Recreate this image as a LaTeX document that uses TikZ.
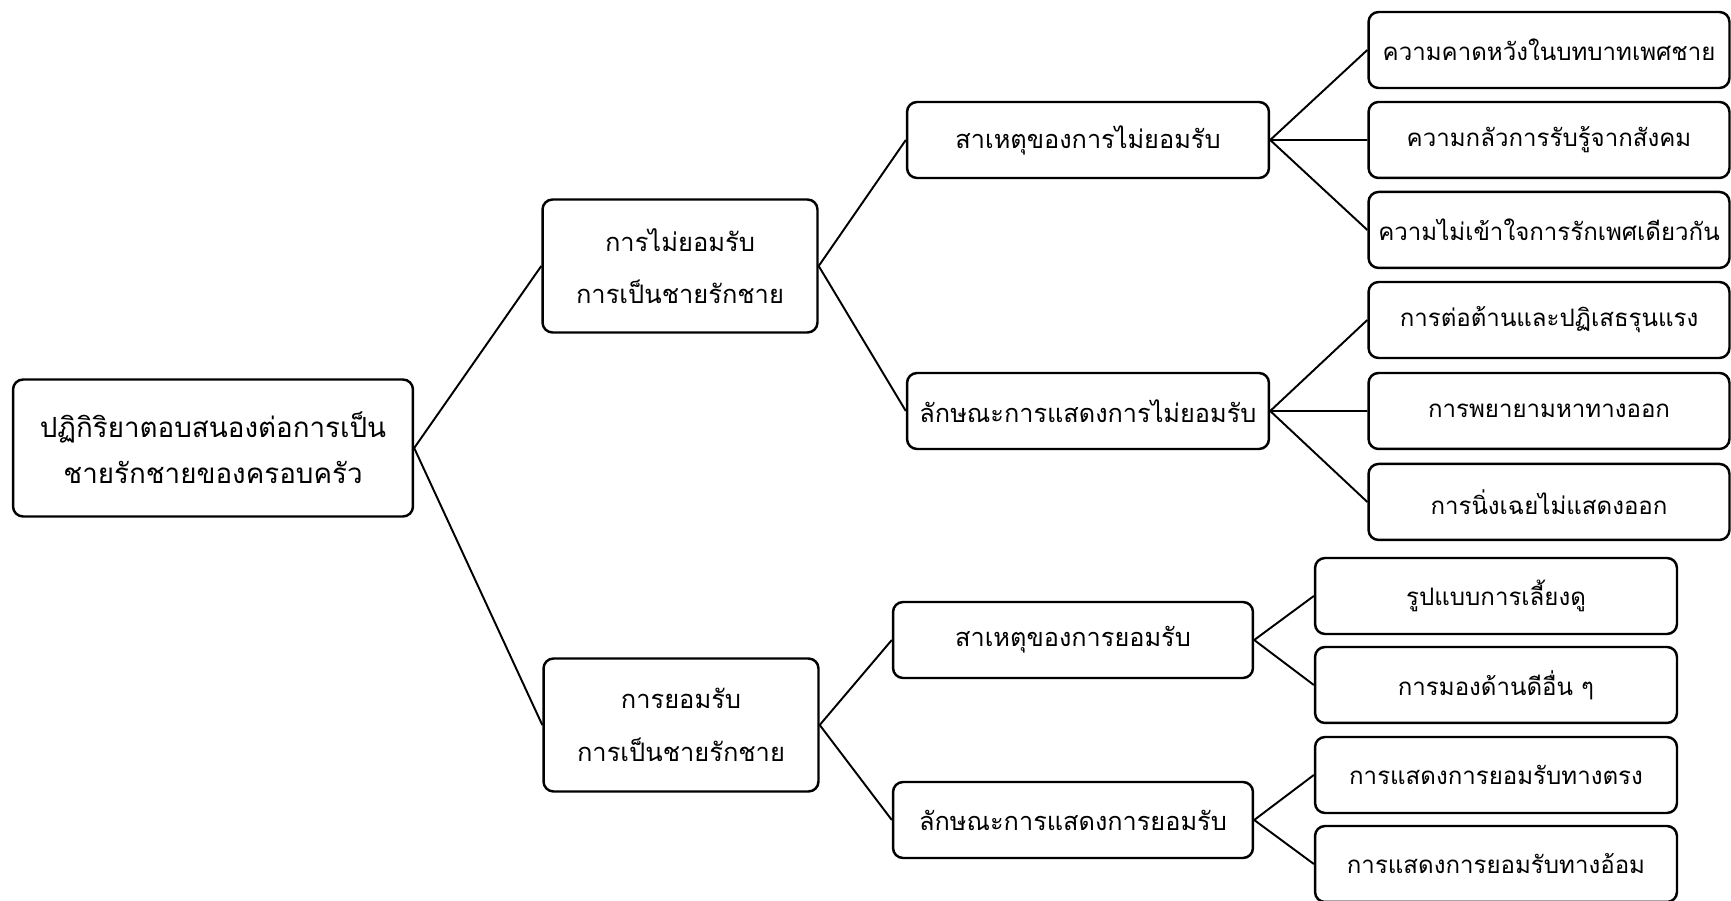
\documentclass[tikz,border=0pt]{standalone}
\usepackage{fontspec}
\newfontfamily\thaifont[Script=Thai]{Loma}
\usetikzlibrary{positioning}
\tikzstyle{block} = [rectangle, draw, line width=1.4pt, rounded corners=0.2cm,
    align=center, inner sep=0pt, font=\thaifont\fontsize{13.7}{20}\selectfont]
\tikzstyle{rootblock} = [block, minimum width=8cm, minimum height=2.74cm,
    font=\thaifont\fontsize{15.8}{26}\selectfont]
\tikzstyle{midblock} = [block, minimum width=5.5cm, minimum height=2.66cm,
    font=\thaifont\fontsize{14.5}{30}\selectfont]
\tikzstyle{subblock} = [block, minimum width=7.24cm, minimum height=1.52cm,
    font=\thaifont\fontsize{14.4}{20}\selectfont]
\tikzstyle{leaf} = [block, minimum width=7.22cm, minimum height=1.52cm]
\tikzstyle{line} = [draw, line width=1.1pt]

\begin{document}
\begin{tikzpicture}[x=0.02cm, y=-0.02cm]
    \useasboundingbox (0,0) rectangle (1731,901);
    % Place nodes
    \node [rootblock] (root) at (213,448) {ปฏิกิริยาตอบสนองต่อการเป็น\\ชายรักชายของครอบครัว};
    \node [midblock] (reject) at (680,266) {การไม่ยอมรับ\\การเป็นชายรักชาย};
    \node [midblock] (accept) at (681,725) {การยอมรับ\\การเป็นชายรักชาย};
    \node [subblock] (rejcause) at (1088,140) {สาเหตุของการไม่ยอมรับ};
    \node [subblock] (rejshow) at (1088,411) {ลักษณะการแสดงการไม่ยอมรับ};
    \node [subblock, minimum width=7.2cm] (acccause) at (1073,640) {สาเหตุของการยอมรับ};
    \node [subblock, minimum width=7.2cm] (accshow) at (1073,820) {ลักษณะการแสดงการยอมรับ};
    % the leaves on the right
    \node [leaf] (expect) at (1549,50) {ความคาดหวังในบทบาทเพศชาย};
    \node [leaf, below of=expect, node distance=1.8cm] (fear) {ความกลัวการรับรู้จากสังคม};
    \node [leaf, below of=fear, node distance=1.8cm] (misund) {ความไม่เข้าใจการรักเพศเดียวกัน};
    \node [leaf] (oppose) at (1549,320) {การต่อต้านและปฏิเสธรุนแรง};
    \node [leaf, below of=oppose, node distance=1.82cm] (escape) {การพยายามหาทางออก};
    \node [leaf, below of=escape, node distance=1.82cm] (silent) {การนิ่งเฉยไม่แสดงออก};
    \node [leaf, minimum width=7.24cm] (raising) at (1496,596) {รูปแบบการเลี้ยงดู};
    \node [leaf, minimum width=7.24cm, below of=raising, node distance=1.78cm] (goodside) {การมองด้านดีอื่น ๆ};
    \node [leaf, minimum width=7.24cm] (direct) at (1496,775) {การแสดงการยอมรับทางตรง};
    \node [leaf, minimum width=7.24cm, below of=direct, node distance=1.78cm] (indirect) {การแสดงการยอมรับทางอ้อม};
    % Draw edges
    \path [line] (root.east) -- (reject.west);
    \path [line] (root.east) -- (accept.west);
    \path [line] (reject.east) -- (rejcause.west);
    \path [line] (reject.east) -- (rejshow.west);
    \path [line] (accept.east) -- (acccause.west);
    \path [line] (accept.east) -- (accshow.west);
    \foreach \leafname in {expect, fear, misund}
        \path [line] (rejcause.east) -- (\leafname.west);
    \foreach \leafname in {oppose, escape, silent}
        \path [line] (rejshow.east) -- (\leafname.west);
    \foreach \leafname in {raising, goodside}
        \path [line] (acccause.east) -- (\leafname.west);
    \foreach \leafname in {direct, indirect}
        \path [line] (accshow.east) -- (\leafname.west);
\end{tikzpicture}
\end{document}
